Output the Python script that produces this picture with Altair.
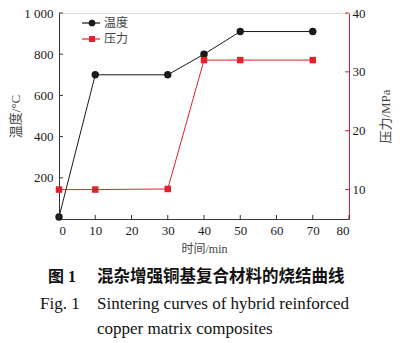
import altair as alt
import pandas as pd

# ---- data ----
time_min = [0, 10, 30, 40, 50, 70]
temperature = [10, 700, 700, 800, 910, 910]
pressure = [10, 10, 10.1, 32, 32, 32]
x_ticks = [0, 10, 20, 30, 40, 50, 60, 70, 80]
temp_ticks = [200, 400, 600, 800, 1000]
press_ticks = [10, 20, 30, 40]
series = ["温度", "压力"]
caption_cn = ["图 1", "混杂增强铜基复合材料的烧结曲线"]
caption_en = ["Fig. 1", "Sintering curves of hybrid reinforced", "copper matrix composites"]

W, H = 290, 206
BLACK = "#1a1a1a"
RED = "#e3212b"
SERIF = "Liberation Serif, Noto Sans CJK SC, serif"
CJK = "Noto Sans CJK SC, sans-serif"

df = pd.DataFrame({"time": time_min, "temp": temperature, "press": pressure})
xt = pd.DataFrame({"v": x_ticks})
tt = pd.DataFrame({"v": temp_ticks})
pt = pd.DataFrame({"v": press_ticks})
one = pd.DataFrame({"a": [0]})

x_scale = alt.Scale(domain=[0, 80], nice=False, zero=False)
x_axis = alt.Axis(values=x_ticks, ticks=False, grid=False, title="时间/min",
                  labelFont=SERIF, labelFontSize=13, labelColor=BLACK, labelPadding=5,
                  titleFont=SERIF, titleFontSize=12, titleFontWeight="normal",
                  titleColor="#444444", titlePadding=6, domainColor="#333333")

temp_scale = alt.Scale(domain=[0, 1000], nice=False, zero=False)
temp_axis = alt.Axis(orient="left", values=temp_ticks, ticks=False, grid=False,
                     labelExpr="datum.value == 1000 ? '1 000' : datum.label",
                     title="温度/°C", labelFont=SERIF, labelFontSize=13,
                     labelColor=BLACK, labelPadding=6, titleFont=SERIF,
                     titleFontSize=13, titleFontWeight="normal", titleColor="#444444",
                     titleX=-44, titleY=H / 2, titleAlign="center",
                     titleBaseline="middle", domainColor="#333333")

press_scale = alt.Scale(domain=[5, 40], nice=False, zero=False)
press_axis = alt.Axis(orient="right", values=press_ticks, ticks=False, grid=False,
                      title="压力/MPa", titleAngle=270, labelFont=SERIF,
                      labelFontSize=13, labelColor=BLACK, labelPadding=3,
                      titleFont=SERIF, titleFontSize=13, titleFontWeight="normal",
                      titleColor="#444444", titleX=36, titleY=H / 2,
                      titleAlign="center", titleBaseline="middle", domainColor=RED)

X = alt.X("time:Q", scale=x_scale, axis=x_axis)

# temperature group
t_line = alt.Chart(df).mark_line(color=BLACK, strokeWidth=1).encode(
    x=X, y=alt.Y("temp:Q", scale=temp_scale, axis=temp_axis))
t_pts = alt.Chart(df).mark_point(shape="circle", filled=True, opacity=1,
                                 color=BLACK, size=55).encode(
    x=X, y=alt.Y("temp:Q", scale=temp_scale, axis=temp_axis))
t_ticks = alt.Chart(tt).mark_rule(color="#333333", strokeWidth=1).encode(
    x=alt.value(0), x2=alt.value(4),
    y=alt.Y("v:Q", scale=temp_scale, axis=temp_axis))
x_tick_rules = alt.Chart(xt).mark_rule(color="#333333", strokeWidth=1).encode(
    x=alt.X("v:Q", scale=x_scale, axis=x_axis), y=alt.value(H), y2=alt.value(H - 4))
temp_group = alt.layer(t_line, t_pts, t_ticks, x_tick_rules)

# pressure group
p_line = alt.Chart(df).mark_line(color=RED, strokeWidth=1).encode(
    x=X, y=alt.Y("press:Q", scale=press_scale, axis=press_axis))
p_pts = alt.Chart(df).mark_point(shape="square", filled=True, opacity=1,
                                 color=RED, size=42).encode(
    x=X, y=alt.Y("press:Q", scale=press_scale, axis=press_axis))
p_ticks = alt.Chart(pt).mark_rule(color=RED, strokeWidth=1).encode(
    x=alt.value(W), x2=alt.value(W - 4),
    y=alt.Y("v:Q", scale=press_scale, axis=press_axis))
press_group = alt.layer(p_line, p_pts, p_ticks)

# manual legend
def legend_row(label, color, shape, ypix, size):
    r = alt.Chart(one).mark_rule(color=color, strokeWidth=1.2).encode(
        x=alt.value(23), x2=alt.value(41), y=alt.value(ypix))
    p = alt.Chart(one).mark_point(shape=shape, filled=True, opacity=1,
                                  color=color, size=size).encode(
        x=alt.value(33), y=alt.value(ypix))
    t = alt.Chart(one).mark_text(align="left", baseline="middle", font=CJK,
                                 fontSize=12, color="#444444").encode(
        x=alt.value(45), y=alt.value(ypix), text=alt.value(label))
    return [r, p, t]

legend_layers = legend_row(series[0], BLACK, "circle", 10, 45) + \
    legend_row(series[1], RED, "square", 26, 36)

# captions
def cap(text, xpix, ypix, font, size, weight="normal"):
    return alt.Chart(one).mark_text(align="left", baseline="middle", font=font,
                                    fontSize=size, fontWeight=weight,
                                    color="#111111").encode(
        x=alt.value(xpix), y=alt.value(ypix), text=alt.value(text))

captions = [
    cap(caption_cn[0], -11, 264, SERIF, 16, "bold"),
    cap(caption_cn[1], 38, 264, CJK, 16.5, "bold"),
    cap(caption_en[0], -19, 291, SERIF, 17),
    cap(caption_en[1], 38, 291, SERIF, 17),
    cap(caption_en[2], 38, 316, SERIF, 17),
]

chart = alt.layer(temp_group, press_group, *legend_layers, *captions).resolve_scale(
    y="independent").properties(
    width=W, height=H,
    autosize=alt.AutoSizeParams(type="none"),
    padding={"left": 59, "top": 13, "right": 51, "bottom": 124},
).configure_view(stroke=None).configure(background="white")

chart.save("out.html", embed_options={"renderer": "svg", "actions": False})
